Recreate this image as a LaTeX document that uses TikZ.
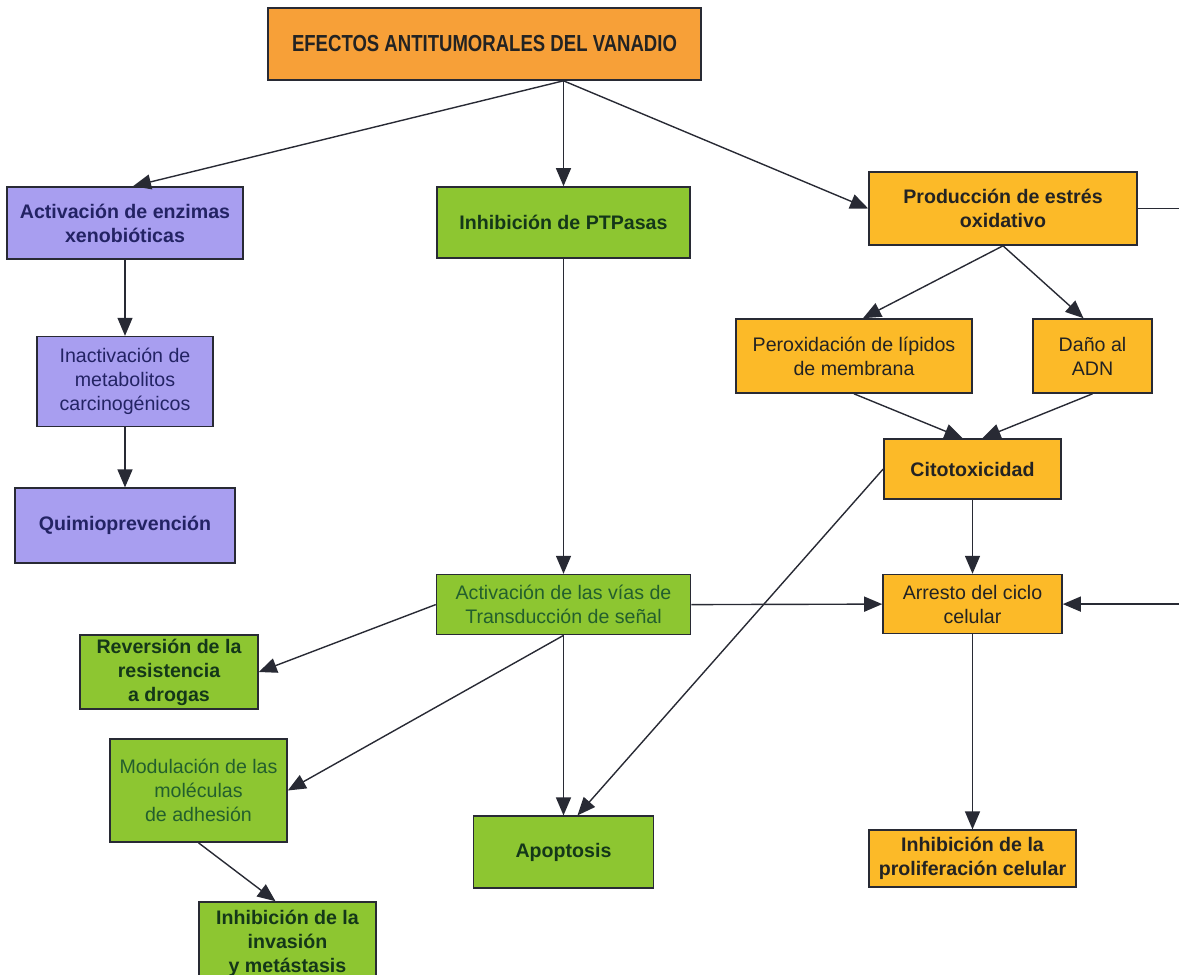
\documentclass[tikz,border=0pt]{standalone}
\usepackage{fontspec}
\setmainfont{Liberation Sans}
\newfontfamily\titlefont[FakeStretch=0.8]{Liberation Sans}
\usepackage{xcolor}
\definecolor{FillTitle}{RGB}{247,160,56}
\definecolor{FillLila}{RGB}{168,158,240}
\definecolor{FillVerde}{RGB}{141,198,49}
\definecolor{FillNaranja}{RGB}{252,186,40}
\definecolor{TextLila}{RGB}{35,35,100}
\definecolor{TextVerde}{RGB}{20,55,25}
\definecolor{TextVerdeFino}{RGB}{35,95,45}
\definecolor{TextOscuro}{RGB}{35,35,35}
\definecolor{LineaGris}{RGB}{40,42,52}
\usetikzlibrary{arrows.meta, positioning}
\tikzset{
  % Generic box
  vbox/.style={
    rectangle, draw=LineaGris, line width=0.8pt,
    align=center, inner sep=1pt,
    font=\fontsize{9.8}{12}\selectfont\bfseries
  },
  % Colour variants
  vbox lila/.style={vbox, fill=FillLila, text=TextLila},
  vbox verde/.style={vbox, fill=FillVerde, text=TextVerde},
  vbox naranja/.style={vbox, fill=FillNaranja, text=TextOscuro},
  % Regular weight text
  fino/.style={font=\fontsize{9.8}{12}\selectfont},
  verde fino/.style={fino, text=TextVerdeFino},
  % Title
  titulo/.style={
    rectangle, draw=LineaGris, line width=0.8pt, fill=FillTitle,
    text=TextOscuro, font=\titlefont\fontsize{11.6}{13}\selectfont\bfseries,
    minimum width=216.5pt, minimum height=36pt
  },
  % Arrows
  flecha/.style={-{Triangle[length=9pt,width=7.5pt]}, line width=0.7pt, LineaGris},
}

\begin{document}
\begin{tikzpicture}[x=0.5pt, y=-0.5pt]
  \useasboundingbox (0,0) rectangle (1179,975);

  %% Title
  \node[titulo] (titulo) at (484.5,44) {EFECTOS ANTITUMORALES DEL VANADIO};

  %% Left column
  \node[vbox lila, minimum width=118pt, minimum height=36pt]
    (enz) at (125,223) {Activación de enzimas\\xenobióticas};
  \node[vbox lila, fino, text=TextLila, minimum width=88pt, minimum height=45pt, below=38pt of enz]
    (inact) {Inactivación de\\metabolitos\\carcinogénicos};
  \node[vbox lila, minimum width=110pt, minimum height=37.5pt, below=30pt of inact]
    (quimio) {Quimioprevención};

  %% Middle column
  \node[vbox verde, minimum width=126.5pt, minimum height=35.5pt]
    (ptp) at (563.5,222.5) {Inhibición de PTPasas};
  \node[vbox verde, verde fino, minimum width=127pt, minimum height=30pt, below=157.5pt of ptp]
    (activ) {Activación de las vías de\\Transducción de señal};
  \node[vbox verde, minimum width=90pt, minimum height=36pt, below=90pt of activ]
    (apop) {Apoptosis};

  %% Lower left
  \node[vbox verde, minimum width=89pt, minimum height=37pt]
    (rev) at (169,672) {Reversión de la\\resistencia\\a drogas};
  \node[vbox verde, verde fino, minimum width=88.5pt, minimum height=51.5pt]
    (mod) at (198.5,790.5) {Modulación de las\\moléculas\\de adhesión};
  \node[vbox verde, minimum width=88.5pt, minimum height=41.5pt]
    (inhinv) at (287.5,943.5) {Inhibición de la\\invasión\\y metástasis};

  %% Right column
  \node[vbox naranja, minimum width=134pt, minimum height=36.5pt]
    (prod) at (1003,208.5) {Producción de estrés\\oxidativo};
  \node[vbox naranja, fino, minimum width=118pt, minimum height=37pt]
    (perox) at (854,356) {Peroxidación de lípidos\\de membrana};
  \node[vbox naranja, fino, minimum width=59.5pt, minimum height=37pt]
    (dano) at (1092.5,356) {Daño al\\ADN};
  \node[vbox naranja, minimum width=88.5pt, minimum height=30pt]
    (cito) at (972.5,469) {Citotoxicidad};
  \node[vbox naranja, fino, minimum width=89.5pt, minimum height=29.5pt, below=37pt of cito]
    (arrest) {Arresto del ciclo\\celular};
  \node[vbox naranja, minimum width=103.5pt, minimum height=28.5pt, below=97.5pt of arrest]
    (inhprol) {Inhibición de la\\proliferación celular};

  %% Connectors from the title
  \coordinate (hub) at (ptp.north |- titulo.south);
  \draw[flecha] (hub) -- ([xshift=4pt]enz.north);
  \draw[flecha] (hub) -- (ptp.north);
  \draw[flecha] (hub) -- (prod.west);

  %% Left chain
  \draw[flecha] (enz) -- (inact);
  \draw[flecha] (inact) -- (quimio);

  %% Middle chain
  \draw[flecha] (ptp) -- (activ);
  \draw[flecha] (activ) -- (apop);
  \draw[flecha] (activ.west) -- (rev.east);
  \draw[flecha] (activ.south) -- (mod.east);
  \draw[flecha] (mod.south) -- ([xshift=-6pt]inhinv.north);
  \draw[flecha] (activ.east) -- (arrest.west);

  %% Oxidative stress branch
  \draw[flecha] (prod.south) -- ([xshift=4.5pt]perox.north);
  \draw[flecha] (prod.south) -- ([xshift=-4.5pt]dano.north);
  \draw[flecha] (perox.south) -- ([xshift=-5pt]cito.north);
  \draw[flecha] (dano.south) -- ([xshift=5pt]cito.north);
  \draw[flecha] (cito) -- (arrest);
  \draw[flecha] (cito.west) -- ([xshift=7pt]apop.north);
  \draw[flecha] (arrest) -- (inhprol);

  %% Feedback along the right edge
  \coordinate (borde) at (1195,400);
  \draw[flecha] (prod.east) -| (borde) |- (arrest.east);

\end{tikzpicture}
\end{document}
